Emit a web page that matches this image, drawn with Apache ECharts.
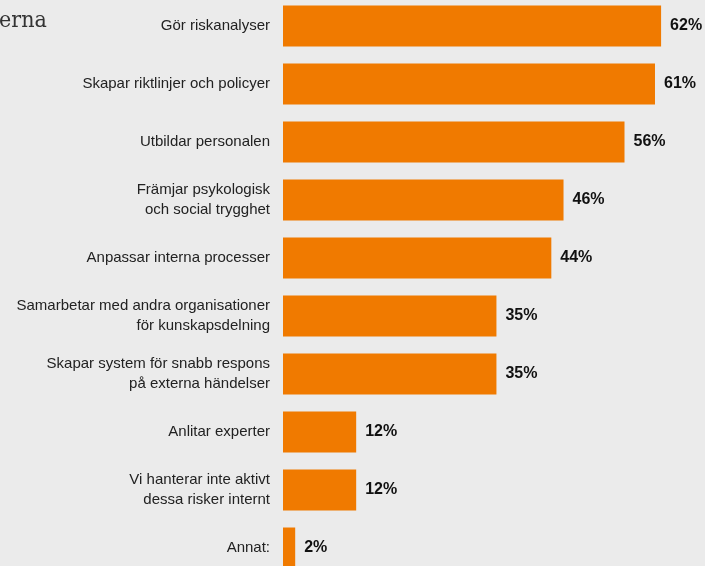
<!DOCTYPE html>
<html><head><meta charset="utf-8">
<script src="https://cdn.jsdelivr.net/npm/echarts@6/dist/echarts.min.js"></script>
<style>html,body{margin:0;padding:0;background:#ebebeb;}#c{width:705px;height:566px;}</style>
</head><body><div id="c"></div>
<script>
const categories = [
  "Gör riskanalyser",
  "Skapar riktlinjer och policyer",
  "Utbildar personalen",
  "Främjar psykologisk\noch social trygghet",
  "Anpassar interna processer",
  "Samarbetar med andra organisationer\nför kunskapsdelning",
  "Skapar system för snabb respons\npå externa händelser",
  "Anlitar experter",
  "Vi hanterar inte aktivt\ndessa risker internt",
  "Annat:"
];
const values = [62, 61, 56, 46, 44, 35, 35, 12, 12, 2];
const titleFragment = "erna";

const chart = echarts.init(document.getElementById('c'));
const font = '"Liberation Sans", Arial, sans-serif';
chart.setOption({
  backgroundColor: '#ebebeb',
  animation: false,
  grid: {left: 283, right: 0, top: -3, height: 580, containLabel: false, outerBoundsMode: 'none'},
  xAxis: {type: 'value', min: 0, max: 69.2, show: false},
  yAxis: {
    type: 'category', inverse: true, data: categories,
    axisLine: {show: false}, axisTick: {show: false}, splitLine: {show: false},
    axisLabel: {margin: 13, color: '#222', fontSize: 15, fontFamily: font, lineHeight: 20, align: 'right'}
  },
  series: [{
    type: 'bar', data: values, barWidth: 41,
    itemStyle: {color: '#f07a00'},
    label: {show: true, position: 'right', distance: 9, formatter: '{c}%', color: '#111', fontWeight: 'bold', fontSize: 16, fontFamily: font}
  }],
  graphic: [{
    type: 'text', left: -1, top: 10,
    style: {text: titleFragment, fill: '#333', font: '23px "DejaVu Serif Condensed", "DejaVu Serif", serif'}
  }]
});
</script></body></html>
